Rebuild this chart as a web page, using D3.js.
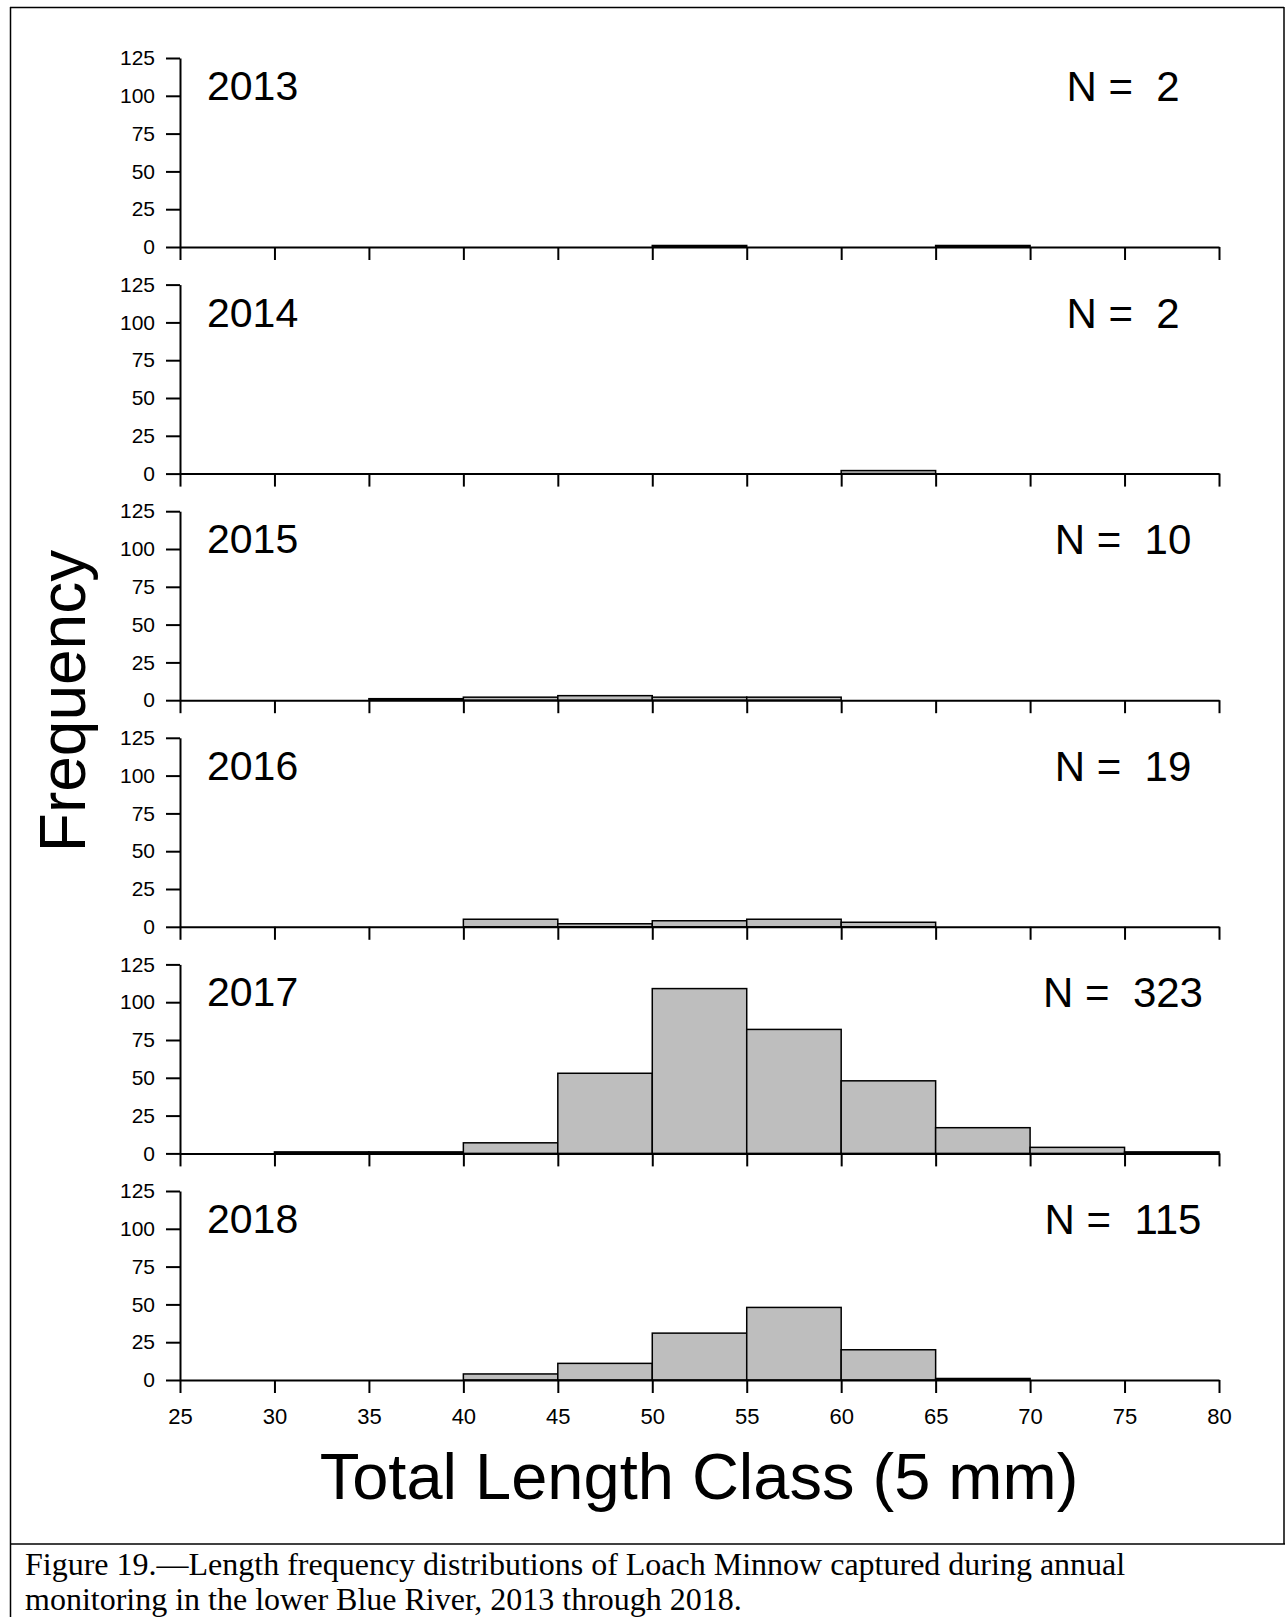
<!DOCTYPE html>
<html>
<head>
<meta charset="utf-8">
<script src="https://cdn.jsdelivr.net/npm/d3@7"></script>
<style>
  body{margin:0;background:#fff;}
  svg{display:block;}
</style>
</head>
<body>
<div id="chart"></div>
<script>
// length class starts (5 mm bins)
var binStarts=[25,30,35,40,45,50,55,60,65,70,75]
var xTicks=[25,30,35,40,45,50,55,60,65,70,75,80]
var yTicks=[0,25,50,75,100,125]
var years=[2013,2014,2015,2016,2017,2018]
var nLabels=[2,2,10,19,323,115]

// counts per bin, one array per year
var counts2013=[0,0,0,0,0,1,0,0,1,0,0]
var counts2014=[0,0,0,0,0,0,0,2,0,0,0]
var counts2015=[0,0,1,2,3,2,2,0,0,0,0]
var counts2016=[0,0,0,5,2,4,5,3,0,0,0]
var counts2017=[0,1,1,7,53,109,82,48,17,4,1]
var counts2018=[0,0,0,4,11,31,48,20,1,0,0]
var allCounts=[counts2013,counts2014,counts2015,counts2016,counts2017,counts2018]

var width=1285, height=1617
var svg=d3.select("#chart").append("svg")
    .attr("width",width)
    .attr("height",height)

var fontSans="Liberation Sans, Arial, Helvetica, sans-serif"
var fontSerif="Liberation Serif, Times New Roman, serif"

// frame
var frame=svg.append("g").attr("stroke","#000").attr("stroke-width",1.5).attr("fill","none")
frame.append("line").attr("x1",10).attr("y1",7.5).attr("x2",1284).attr("y2",7.5)
frame.append("line").attr("x1",10.5).attr("y1",7).attr("x2",10.5).attr("y2",1617)
frame.append("line").attr("x1",1284).attr("y1",7).attr("x2",1284).attr("y2",1544)
frame.append("line").attr("x1",10).attr("y1",1544).attr("x2",1285).attr("y2",1544)

var x=d3.scaleLinear().domain([25,80]).range([180,1219])

var firstAxisY=247, step=226.6, panelH=189

years.forEach(function(yr,i){
  var base=firstAxisY+i*step
  var y=d3.scaleLinear().domain([0,125]).range([base,base-panelH])
  var g=svg.append("g")
  var data=allCounts[i]

  // bars
  g.selectAll("rect")
    .data(binStarts.map(function(b,j){return {start:b,count:data[j]}}).filter(function(d){return d.count>0}))
    .enter().append("rect")
    .attr("x",function(d){return x(d.start)})
    .attr("width",function(d){return x(d.start+5)-x(d.start)})
    .attr("y",function(d){return y(d.count)})
    .attr("height",function(d){return y(0)-y(d.count)})
    .attr("fill","#bebebe")
    .attr("stroke","#000")
    .attr("stroke-width",1.5)

  // x axis
  var xAxis=d3.axisBottom(x).tickValues(xTicks).tickSize(13).tickSizeOuter(0).tickPadding(15)
  if(i<years.length-1) xAxis.tickFormat("")
  var gx=g.append("g").attr("transform","translate(0,"+base+")").call(xAxis)
  gx.selectAll("path,line").attr("stroke","#000").attr("stroke-width",2)
  gx.selectAll("text").attr("font-family",fontSans).attr("font-size",22).attr("fill","#000")

  // y axis
  var yAxis=d3.axisLeft(y).tickValues(yTicks).tickSize(14).tickSizeOuter(0).tickPadding(11)
  var gy=g.append("g").attr("transform","translate(180,0)").call(yAxis)
  gy.selectAll("path,line").attr("stroke","#000").attr("stroke-width",2)
  gy.selectAll("text").attr("font-family",fontSans).attr("font-size",21).attr("fill","#000")

  // year and N labels
  g.append("text").attr("x",207).attr("y",base-147)
    .attr("font-family",fontSans).attr("font-size",41).text(yr)
  g.append("text").attr("x",1123).attr("y",base-146)
    .attr("text-anchor","middle").attr("font-family",fontSans).attr("font-size",42)
    .attr("xml:space","preserve").style("white-space","pre")
    .text("N =  "+nLabels[i])
})

// axis titles
svg.append("text").attr("transform","translate(85,701) rotate(-90)")
  .attr("text-anchor","middle").attr("font-family",fontSans).attr("font-size",64)
  .text("Frequency")
svg.append("text").attr("x",699).attr("y",1499)
  .attr("text-anchor","middle").attr("font-family",fontSans).attr("font-size",65)
  .text("Total Length Class (5 mm)")

// caption
svg.append("text").attr("x",25).attr("y",1575)
  .attr("font-family",fontSerif).attr("font-size",32)
  .text("Figure 19.\u2014Length frequency distributions of Loach Minnow captured during annual")
svg.append("text").attr("x",25).attr("y",1610)
  .attr("font-family",fontSerif).attr("font-size",32)
  .text("monitoring in the lower Blue River, 2013 through 2018.")
</script>
</body>
</html>
